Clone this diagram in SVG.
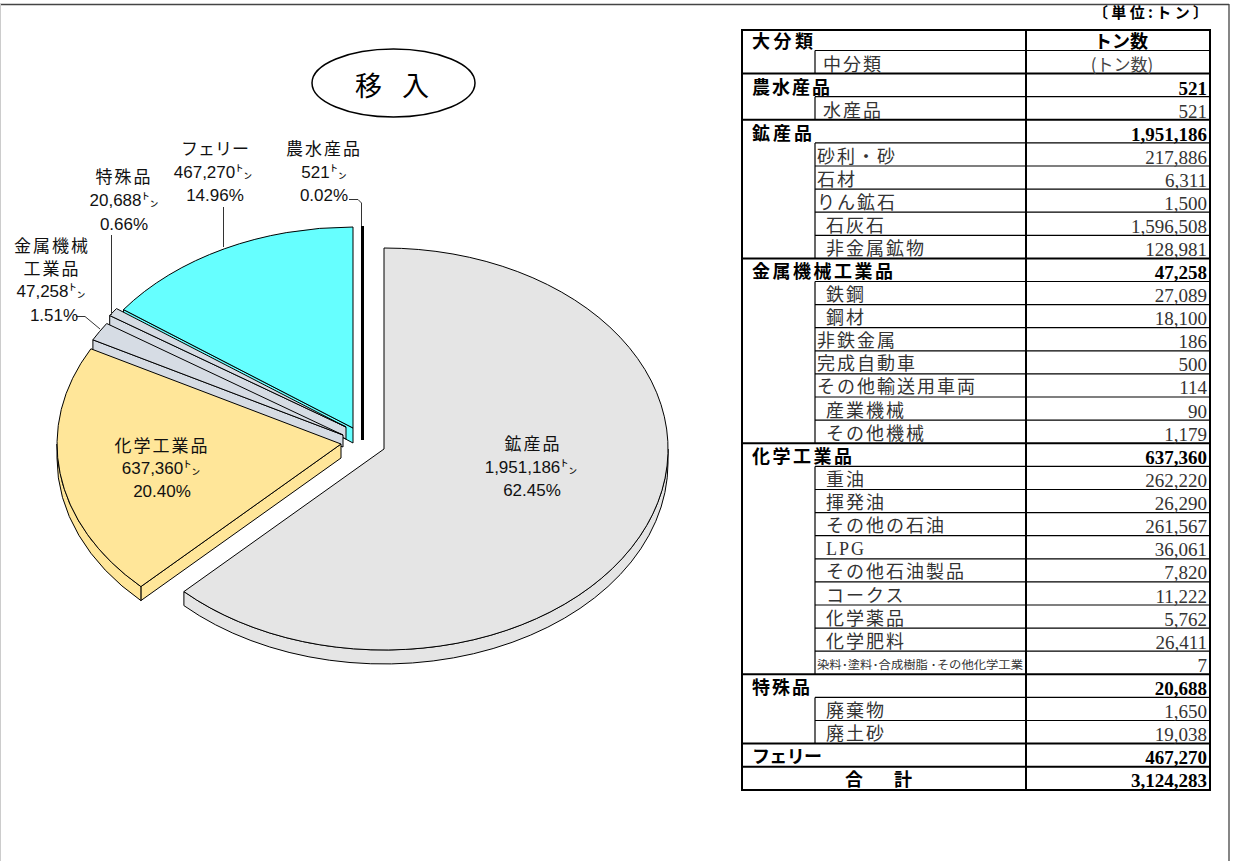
<svg xmlns="http://www.w3.org/2000/svg" width="1239" height="861" viewBox="0 0 1239 861">
<style>
.sl{stroke:#000;stroke-width:1;stroke-linejoin:round}
.kou{fill:#E5E5E5}
.kag{fill:#FFE699}
.gry{fill:#D6DCE4}
.cy{fill:#66FFFF}
.lbl{font-family:"Liberation Sans","Noto Sans CJK JP",sans-serif;font-size:17px;fill:#111;text-anchor:middle}
.kj{letter-spacing:2px}
.ld{fill:none;stroke:#333;stroke-width:1}
.gl{font-family:"Noto Sans CJK JP",sans-serif;font-weight:bold;font-size:18px;fill:#000}
.sb{font-family:"Liberation Serif","Noto Sans CJK JP",serif;font-size:18px;fill:#333;letter-spacing:2px}
.gn{font-family:"Liberation Serif",serif;font-weight:bold;font-size:19px;fill:#000;text-anchor:end}
.sn{font-family:"Liberation Serif",serif;font-size:19px;fill:#333;text-anchor:end}
.tk{stroke:#000;stroke-width:2;fill:none}
.tn{stroke:#000;stroke-width:1.2;fill:none}
</style>

<!-- frame -->
<g id="frame">
<line x1="0" y1="4.5" x2="1229" y2="4.5" stroke="#444" stroke-width="1.3"/>
<line x1="1229" y1="4" x2="1229" y2="861" stroke="#444" stroke-width="1.3"/>
<line x1="0.5" y1="4" x2="0.5" y2="861" stroke="#ccc" stroke-width="1"/>
</g>

<!-- title -->
<g id="title">
<ellipse cx="393.5" cy="83" rx="81.5" ry="34" fill="#fff" stroke="#000" stroke-width="1.5"/>
<text x="355" y="96" font-family="Noto Sans CJK JP,sans-serif" font-size="27" textLength="74" lengthAdjust="spacing" fill="#000">移 入</text>
</g>

<!-- pie slices -->
<g id="slice-ferry">
<path class="sl cy" d="M123.5,309.6 L353,428 L353,443 L123.5,320 Z"/>
<path class="sl cy" d="M353,428 L123.5,309.6 A284,201 0 0,1 353,227 Z"/>
</g>
<g id="slice-tokushu">
<path class="sl gry" d="M109.7,315.5 L346,427 L346,439 L109.7,325.5 Z"/>
<path class="sl gry" d="M346,427 L109.7,315.5 A284,201 0 0,1 116.5,308.6 Z"/>
</g>
<g id="slice-kinzoku">
<path class="sl gry" d="M92.9,339.8 L343,435 L343,447 L92.9,350.8 Z"/>
<path class="sl gry" d="M343,435 L92.9,339.8 A284,201 0 0,1 106.7,323.5 Z"/>
</g>
<g id="slice-kagaku">
<path class="sl kag" d="M341,444 L140.9,586.6 L140.9,600.6 L341,458 Z"/>
<path class="sl kag" d="M140.9,586.6 A284,201 0 0,1 57,444 L57,458 A284,201 0 0,0 140.9,600.6 Z"/>
<path class="sl kag" d="M341,444 L140.9,586.6 A284,201 0 0,1 90.9,348.8 Z"/>
</g>
<g id="slice-kousan">
<path class="sl kou" d="M668,449 A284,201 0 0,1 183.9,591.6 L183.9,605.6 A284,201 0 0,0 668,463 Z"/>
<path class="sl kou" d="M384,449 L384,248 A284,201 0 1,1 183.9,591.6 Z"/>
</g>
<g id="slice-nousui">
<line x1="362.5" y1="226" x2="362.5" y2="440" stroke="#000" stroke-width="3"/>
</g>

<!-- leader lines -->
<g id="connectors">
<polyline class="ld" points="349,199.5 358,199.5 361.5,203 361.5,226"/>
<line class="ld" x1="223.5" y1="207" x2="223.5" y2="247"/>
<line class="ld" x1="111.5" y1="235" x2="111.5" y2="315"/>
<polyline class="ld" points="76,316.5 85,316.5 100,329"/>
</g>

<!-- pie labels -->
<g id="label-nousui" class="lbl">
<text x="324" y="155" class="kj">農水産品</text>
<text x="324" y="178">521㌧</text>
<text x="324" y="201">0.02%</text>
</g>
<g id="label-ferry" class="lbl">
<text x="215" y="155">フェリー</text>
<text x="213" y="178">467,270㌧</text>
<text x="215" y="201">14.96%</text>
</g>
<g id="label-tokushu" class="lbl">
<text x="124" y="183" class="kj">特殊品</text>
<text x="124" y="206">20,688㌧</text>
<text x="124" y="230">0.66%</text>
</g>
<g id="label-kinzoku" class="lbl">
<text x="52" y="252" class="kj">金属機械</text>
<text x="52" y="275" class="kj">工業品</text>
<text x="51" y="297">47,258㌧</text>
<text x="54" y="321">1.51%</text>
</g>
<g id="label-kagaku" class="lbl">
<text x="162" y="452" class="kj">化学工業品</text>
<text x="161" y="474">637,360㌧</text>
<text x="162" y="497">20.40%</text>
</g>
<g id="label-kousan" class="lbl">
<text x="533" y="450" class="kj">鉱産品</text>
<text x="531" y="473">1,951,186㌧</text>
<text x="532" y="496">62.45%</text>
</g>

<!-- table -->
<g id="table">
<text x="1208" y="18" font-family="Noto Sans CJK JP,sans-serif" font-weight="bold" font-size="15" text-anchor="end" textLength="115" lengthAdjust="spacing">〔単位:トン〕</text>
<g id="table-lines">
<rect class="tk" x="742" y="30" width="468" height="760"/>
<line class="tk" x1="1026" y1="30" x2="1026" y2="790"/>
<!-- inner verticals -->
<line class="tn" x1="815" y1="50.5" x2="815" y2="73.6"/>
<line class="tn" x1="815" y1="96.7" x2="815" y2="119.8"/>
<line class="tn" x1="815" y1="142.9" x2="815" y2="258.4"/>
<line class="tn" x1="815" y1="281.5" x2="815" y2="443.3"/>
<line class="tn" x1="815" y1="466.4" x2="815" y2="674.3"/>
<line class="tn" x1="815" y1="697.4" x2="815" y2="743.6"/>
<!-- full horizontal -->
<line class="tk" x1="742" y1="73.6" x2="1210" y2="73.6"/>
<line class="tk" x1="742" y1="119.8" x2="1210" y2="119.8"/>
<line class="tk" x1="742" y1="258.4" x2="1210" y2="258.4"/>
<line class="tk" x1="742" y1="443.3" x2="1210" y2="443.3"/>
<line class="tk" x1="742" y1="674.3" x2="1210" y2="674.3"/>
<line class="tk" x1="742" y1="743.6" x2="1210" y2="743.6"/>
<line class="tk" x1="742" y1="766.7" x2="1210" y2="766.7"/>
<!-- partial horizontal -->
<line class="tn" x1="815" y1="50.5" x2="1210" y2="50.5"/>
<line class="tn" x1="815" y1="96.7" x2="1210" y2="96.7"/>
<line class="tn" x1="815" y1="142.9" x2="1210" y2="142.9"/>
<line class="tn" x1="815" y1="166.0" x2="1210" y2="166.0"/>
<line class="tn" x1="815" y1="189.1" x2="1210" y2="189.1"/>
<line class="tn" x1="815" y1="212.2" x2="1210" y2="212.2"/>
<line class="tn" x1="815" y1="235.3" x2="1210" y2="235.3"/>
<line class="tn" x1="815" y1="281.5" x2="1210" y2="281.5"/>
<line class="tn" x1="815" y1="304.6" x2="1210" y2="304.6"/>
<line class="tn" x1="815" y1="327.7" x2="1210" y2="327.7"/>
<line class="tn" x1="815" y1="350.8" x2="1210" y2="350.8"/>
<line class="tn" x1="815" y1="373.9" x2="1210" y2="373.9"/>
<line class="tn" x1="815" y1="397.0" x2="1210" y2="397.0"/>
<line class="tn" x1="815" y1="420.2" x2="1210" y2="420.2"/>
<line class="tn" x1="815" y1="466.4" x2="1210" y2="466.4"/>
<line class="tn" x1="815" y1="489.5" x2="1210" y2="489.5"/>
<line class="tn" x1="815" y1="512.6" x2="1210" y2="512.6"/>
<line class="tn" x1="815" y1="535.7" x2="1210" y2="535.7"/>
<line class="tn" x1="815" y1="558.8" x2="1210" y2="558.8"/>
<line class="tn" x1="815" y1="581.9" x2="1210" y2="581.9"/>
<line class="tn" x1="815" y1="605.0" x2="1210" y2="605.0"/>
<line class="tn" x1="815" y1="628.1" x2="1210" y2="628.1"/>
<line class="tn" x1="815" y1="651.2" x2="1210" y2="651.2"/>
<line class="tn" x1="815" y1="697.4" x2="1210" y2="697.4"/>
<line class="tn" x1="815" y1="720.5" x2="1210" y2="720.5"/>
</g>
<g id="table-text">
<text class="gl" x="752" y="48" textLength="61" lengthAdjust="spacing">大分類</text>
<text x="1121" y="48" font-family="Noto Sans CJK JP,sans-serif" font-weight="bold" font-size="18" text-anchor="middle">トン数</text>
<text class="sb" x="823" y="71">中分類</text>
<text x="1122" y="71" font-family="Noto Sans CJK JP,sans-serif" font-size="17" fill="#444" text-anchor="middle">(トン数)</text>

<text class="gl" x="752" y="94" textLength="78" lengthAdjust="spacing">農水産品</text><text class="gn" x="1207" y="95">521</text>
<text class="sb" x="823" y="117">水産品</text><text class="sn" x="1207" y="118">521</text>
<text class="gl" x="752" y="140" textLength="60" lengthAdjust="spacing">鉱産品</text><text class="gn" x="1207" y="141">1,951,186</text>
<text class="sb" x="817" y="163">砂利・砂</text><text class="sn" x="1207" y="164">217,886</text>
<text class="sb" x="817" y="186">石材</text><text class="sn" x="1207" y="187">6,311</text>
<text class="sb" x="817" y="209">りん鉱石</text><text class="sn" x="1207" y="210">1,500</text>
<text class="sb" x="826" y="232">石灰石</text><text class="sn" x="1207" y="233">1,596,508</text>
<text class="sb" x="826" y="255">非金属鉱物</text><text class="sn" x="1207" y="256">128,981</text>
<text class="gl" x="752" y="278" textLength="141" lengthAdjust="spacing">金属機械工業品</text><text class="gn" x="1207" y="279">47,258</text>
<text class="sb" x="826" y="301">鉄鋼</text><text class="sn" x="1207" y="302">27,089</text>
<text class="sb" x="826" y="324">鋼材</text><text class="sn" x="1207" y="325">18,100</text>
<text class="sb" x="817" y="347">非鉄金属</text><text class="sn" x="1207" y="348">186</text>
<text class="sb" x="817" y="370">完成自動車</text><text class="sn" x="1207" y="371">500</text>
<text class="sb" x="817" y="393">その他輸送用車両</text><text class="sn" x="1207" y="394">114</text>
<text class="sb" x="826" y="417">産業機械</text><text class="sn" x="1207" y="418">90</text>
<text class="sb" x="826" y="440">その他機械</text><text class="sn" x="1207" y="441">1,179</text>
<text class="gl" x="752" y="463" textLength="100" lengthAdjust="spacing">化学工業品</text><text class="gn" x="1207" y="464">637,360</text>
<text class="sb" x="826" y="486">重油</text><text class="sn" x="1207" y="487">262,220</text>
<text class="sb" x="826" y="509">揮発油</text><text class="sn" x="1207" y="510">26,290</text>
<text class="sb" x="826" y="532">その他の石油</text><text class="sn" x="1207" y="533">261,567</text>
<text class="sb" x="826" y="555" letter-spacing="0">LPG</text><text class="sn" x="1207" y="556">36,061</text>
<text class="sb" x="826" y="578">その他石油製品</text><text class="sn" x="1207" y="579">7,820</text>
<text class="sb" x="826" y="602">コークス</text><text class="sn" x="1207" y="603">11,222</text>
<text class="sb" x="826" y="625">化学薬品</text><text class="sn" x="1207" y="626">5,762</text>
<text class="sb" x="826" y="648">化学肥料</text><text class="sn" x="1207" y="649">26,411</text>
<text x="817" y="669" font-family="Noto Sans CJK JP,sans-serif" font-size="11.5" fill="#333" textLength="206" lengthAdjust="spacingAndGlyphs">染料･塗料･合成樹脂 ･その他化学工業</text><text class="sn" x="1207" y="672">7</text>
<text class="gl" x="752" y="694" textLength="58" lengthAdjust="spacing">特殊品</text><text class="gn" x="1207" y="695">20,688</text>
<text class="sb" x="826" y="717">廃棄物</text><text class="sn" x="1207" y="718">1,650</text>
<text class="sb" x="826" y="740">廃土砂</text><text class="sn" x="1207" y="741">19,038</text>
<text class="gl" x="752" y="763" textLength="70" lengthAdjust="spacing">フェリー</text><text class="gn" x="1207" y="764">467,270</text>
<text class="gl" x="845" y="786" textLength="67" lengthAdjust="spacing">合　計</text><text class="gn" x="1207" y="787">3,124,283</text>
</g>
</g>
</svg>
